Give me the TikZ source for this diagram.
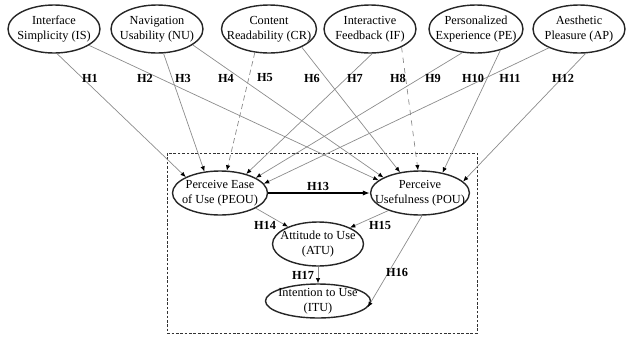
\documentclass[tikz,border=0pt]{standalone}
\usepackage{fontspec}
\setmainfont{Liberation Serif}
\usepackage{tikz}
\usetikzlibrary{shapes.geometric, arrows.meta}

\begin{document}
\begin{tikzpicture}[
	construct/.style={ellipse, draw=black!85, thick, inner xsep=-0.2cm, inner ysep=-0.1cm, minimum width=1.84cm, minimum height=0.96cm, align=center, font=\fontsize{7}{8.5}\selectfont},
	hypo/.style={font=\fontsize{7}{8.5}\selectfont\bfseries},
	path/.style={-{Latex[black, length=3pt, width=2.5pt]}, draw=black!45, thin},
	]
	\useasboundingbox (0, 0) rectangle (12.58, 6.74);

	% external factors
	\node[construct] (IS) at (1.08, 6.16) {Interface\\Simplicity (IS)};
	\node[construct] (NU) at (3.14, 6.16) {Navigation\\Usability (NU)};
	\node[construct, minimum width=1.9cm] (CR) at (5.38, 6.16) {Content\\Readability (CR)};
	\node[construct] (IF) at (7.40, 6.16) {Interactive\\Feedback (IF)};
	\node[construct, minimum width=1.88cm] (PE) at (9.52, 6.16) {Personalized\\Experience (PE)};
	\node[construct] (AP) at (11.58, 6.16) {Aesthetic\\Pleasure (AP)};

	% TAM core
	\draw[dash pattern=on 1.5pt off 1pt, black!80] (3.34, 3.68) rectangle (9.54, 0.08);
	\node[construct, minimum width=1.9cm, minimum height=0.88cm] (PEOU) at (4.40, 2.88) {Perceive Ease\\of Use (PEOU)};
	\node[construct, minimum width=1.9cm, minimum height=0.88cm] (POU) at (8.40, 2.88) {Perceive\\Usefulness (POU)};
	\node[construct, minimum width=1.82cm, minimum height=0.88cm] (ATU) at (6.36, 1.86) {Attitude to Use\\(ATU)};
	\node[construct, minimum width=2.1cm, minimum height=0.68cm] (ITU) at (6.36, 0.72) {Intention to Use\\(ITU)};

	% hypotheses H1--H12
	\draw[path] (IS.-83) -- (PEOU.155);
	\draw[path] (IS.-25) -- (POU.163);
	\draw[path] (NU.-75) -- (PEOU.126);
	\draw[path] (NU.-24) -- (POU.157);
	\draw[path, densely dashed] (CR.-121) -- (PEOU.73);
	\draw[path] (CR.-29) -- (POU.134);
	\draw[path] (IF.-85) -- (PEOU.36);
	\draw[path, dashed] (IF.-30) -- (POU.95);
	\draw[path] (PE.-120) -- (PEOU.23);
	\draw[path] (PE.-41) -- (POU.42);
	\draw[path] (AP.-148) -- (PEOU.12);
	\draw[path] (AP.-75) -- (POU.15);

	\foreach \x/\h in {1.80/1, 2.90/2, 3.66/3, 4.52/4, 5.30/5, 6.24/6, 7.10/7, 7.96/8, 8.66/9, 9.46/10, 10.20/11, 11.26/12}
		\node[hypo] (h\h) at (\x, 5.18) {H\h};

	% hypotheses H13--H17
	\draw[-{Latex[length=4pt, width=3pt]}, thick] (PEOU.east) -- (POU.west);
	\node[hypo] (h13) at (6.36, 3.01) {H13};
	\draw[path] (PEOU.-23) -- (ATU.150);
	\node[hypo] (h14) at (5.30, 2.24) {H14};
	\draw[path] (POU.-151) -- (ATU.27);
	\node[hypo] (h15) at (7.60, 2.24) {H15};
	\draw[path] (POU.-85) -- (ITU.-7);
	\node[hypo] (h16) at (7.94, 1.30) {H16};
	\draw[path] (ATU.south) -- (ITU.north);
	\node[hypo] (h17) at (6.06, 1.24) {H17};
\end{tikzpicture}
\end{document}
